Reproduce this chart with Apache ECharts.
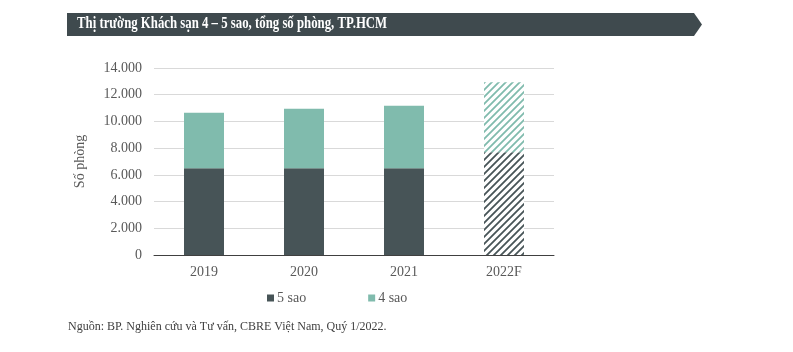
<!DOCTYPE html>
<html>
<head>
<meta charset="utf-8">
<script src="https://cdn.jsdelivr.net/npm/echarts@6/dist/echarts.min.js"></script>
<style>
  html, body { margin: 0; padding: 0; background: #fff; }
  #chart { width: 793px; height: 352px; }
</style>
</head>
<body>
<div id="chart"></div>
<script>
const categories = ['2019', '2020', '2021', '2022F'];
const fiveStar = [6500, 6500, 6500, 7700];
const fourStar = [4150, 4450, 4680, 5230];
const forecastIndex = 3;

const DARK = '#475457';
const TEAL = '#80bbad';
const SERIF = '"Liberation Serif", "DejaVu Serif", serif';

// diagonal hatch pattern for the forecast bar
function makeHatch(color) {
    const size = 7;
    const c = document.createElement('canvas');
    c.width = size;
    c.height = size;
    const ctx = c.getContext('2d');
    ctx.fillStyle = '#fff';
    ctx.fillRect(0, 0, size, size);
    ctx.strokeStyle = color;
    ctx.lineWidth = 1.8;
    ctx.beginPath();
    ctx.moveTo(0, size); ctx.lineTo(size, 0);
    ctx.moveTo(-1, 1); ctx.lineTo(1, -1);
    ctx.moveTo(size - 1, size + 1); ctx.lineTo(size + 1, size - 1);
    ctx.stroke();
    return { image: c, repeat: 'repeat' };
}

function withForecast(values, color) {
    return values.map((v, i) => i === forecastIndex
        ? { value: v, itemStyle: { color: makeHatch(color) } }
        : v);
}

const chart = echarts.init(document.getElementById('chart'));

chart.setOption({
    animation: false,
    graphic: [
        {
            type: 'polygon',
            shape: { points: [[67, 13], [694, 13], [702, 24.5], [694, 36], [67, 36]] },
            style: { fill: '#3f4a4e' }
        },
        {
            type: 'text',
            x: 77,
            y: 16,
            scaleX: 0.8,
            style: {
                text: 'Thị trường Khách sạn 4 – 5 sao, tổng số phòng, TP.HCM',
                fill: '#fff',
                font: 'bold 16px ' + SERIF
            }
        },
        {
            type: 'text',
            left: 68,
            top: 321,
            style: {
                text: 'Nguồn: BP. Nghiên cứu và Tư vấn, CBRE Việt Nam, Quý 1/2022.',
                fill: '#404040',
                font: '12px ' + SERIF
            }
        }
    ],
    grid: { left: 154, right: 239, top: 68, bottom: 97 },
    legend: {
        data: ['5 sao', '4 sao'],
        left: 262,
        top: 286,
        itemWidth: 7,
        itemHeight: 7,
        itemGap: 62,
        icon: 'rect',
        textStyle: { fontFamily: SERIF, fontSize: 14, color: '#595959', padding: [0, 0, 0, -2] }
    },
    xAxis: {
        type: 'category',
        data: categories,
        axisLine: { lineStyle: { color: '#404040', width: 1 } },
        axisTick: { show: false },
        axisLabel: { fontFamily: SERIF, fontSize: 14, color: '#595959', margin: 10 }
    },
    yAxis: {
        type: 'value',
        min: 0,
        max: 14000,
        interval: 2000,
        name: 'Số phòng',
        nameLocation: 'middle',
        nameGap: 67,
        nameRotate: 90,
        nameTextStyle: { fontFamily: SERIF, fontSize: 14, color: '#595959' },
        axisLine: { show: false },
        axisTick: { show: false },
        splitLine: { lineStyle: { color: '#d9d9d9' } },
        axisLabel: {
            fontFamily: SERIF,
            fontSize: 14,
            color: '#595959',
            margin: 12,
            formatter: v => v.toLocaleString('de-DE')
        }
    },
    series: [
        {
            name: '5 sao',
            type: 'bar',
            stack: 'total',
            barWidth: 40,
            itemStyle: { color: DARK },
            data: withForecast(fiveStar, DARK)
        },
        {
            name: '4 sao',
            type: 'bar',
            stack: 'total',
            barWidth: 40,
            itemStyle: { color: TEAL },
            data: withForecast(fourStar, TEAL)
        }
    ]
});
</script>
</body>
</html>
